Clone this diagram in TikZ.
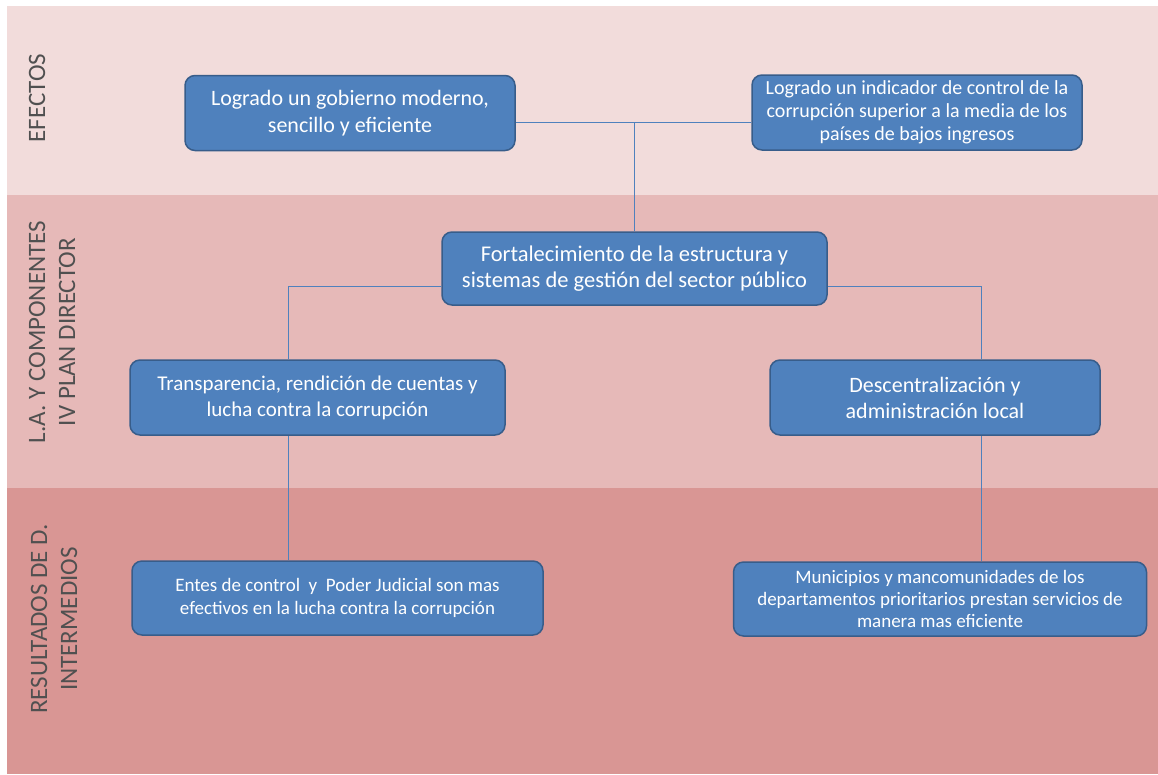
\documentclass[tikz,border=0pt]{standalone}
\usepackage{fontspec}
\setmainfont{Carlito}
\definecolor{bandtop}{HTML}{F2DCDB}
\definecolor{bandmid}{HTML}{E6B9B8}
\definecolor{bandlow}{HTML}{D99694}
\definecolor{boxfill}{HTML}{4F81BD}
\definecolor{boxline}{HTML}{385D8A}
\definecolor{sidetext}{HTML}{505050}

\begin{document}
\begin{tikzpicture}[x=1pt, y=-1pt,
    box/.style={draw=boxline, fill=boxfill, line width=1.5pt, rounded corners=10pt,
                text=white, align=center, inner sep=0pt},
    link/.style={draw=boxfill, line width=1pt},
    side/.style={rotate=90, text=sidetext, align=center, font=\fontsize{25}{30}\selectfont}]
        % bands
        \fill [white] (0,0) rectangle (1158,774);
        \fill [bandtop] (7,6) rectangle (1158,195);
        \fill [bandmid] (7,195) rectangle (1158,488);
        \fill [bandlow] (7,488) rectangle (1158,774);
        \node [side] (efectos) at (37,98) {EFECTOS};
        \node [side] (componentes) at (52,332) {L.A. Y COMPONENTES\\IV PLAN DIRECTOR};
        \node [side] (resultados) at (54,619) {RESULTADOS DE D.\\INTERMEDIOS};

        % boxes
        \node [box, minimum width=330, minimum height=75, font=\fontsize{22}{27}\selectfont]
              (gobierno) at (350,113) {Logrado un gobierno moderno,\\sencillo y eficiente};
        \node [box, minimum width=330, minimum height=75, font=\fontsize{20}{23}\selectfont]
              (indicador) at (917,112.5) {Logrado un indicador de control de la\\corrupción superior a la media de los\\países de bajos ingresos};
        \node [box, minimum width=385, minimum height=73, font=\fontsize{22.5}{26}\selectfont]
              (fortalecimiento) at (634.5,268.5) {Fortalecimiento de la estructura y\\sistemas de gestión del sector público};
        \node [box, minimum width=375, minimum height=75, font=\fontsize{21}{26}\selectfont]
              (transparencia) at (317.5,397.5) {Transparencia, rendición de cuentas y\\lucha contra la corrupción};
        \node [box, minimum width=330, minimum height=75, font=\fontsize{22}{26}\selectfont]
              (descentral) at (935,397.5) {Descentralización y\\administración local};
        \node [box, minimum width=411, minimum height=74, font=\fontsize{19}{23}\selectfont]
              (entes) at (337.5,598) {Entes de control\ \ y\ \ Poder Judicial son mas\\efectivos en la lucha contra la corrupción};
        \node [box, minimum width=413, minimum height=74, font=\fontsize{19}{22}\selectfont]
              (municipios) at (940,599) {Municipios y mancomunidades de los\\departamentos prioritarios prestan servicios de\\manera mas eficiente};

        % connectors
        \coordinate (top) at (634.5,122);
        \coordinate (left) at (288,286);
        \coordinate (right) at (981,286);
        \draw [link] (gobierno.east |- top) -- (indicador.west |- top);
        \draw [link] (top) -- (fortalecimiento.north);
        \draw [link] (fortalecimiento.west |- left) -- (left) -- (left |- transparencia.north);
        \draw [link] (fortalecimiento.east |- right) -- (right) -- (right |- descentral.north);
        \draw [link] (left |- transparencia.south) -- (left |- entes.north);
        \draw [link] (right |- descentral.south) -- (right |- municipios.north);
\end{tikzpicture}
\end{document}
